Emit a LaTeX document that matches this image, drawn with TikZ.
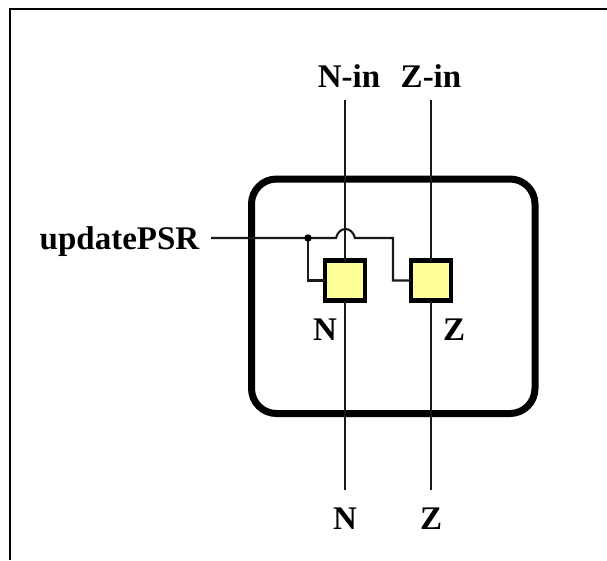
\documentclass[tikz,border=0pt]{standalone}
\usepackage{fontspec}
\setmainfont{Liberation Serif}
\definecolor{latchfill}{HTML}{FFFF99}
\tikzset{
  every picture/.style={x=1pt,y=-1pt},
  wire/.style={draw=black!90,line width=2.1pt},
  latch/.style={draw=black,line width=4.2pt,fill=latchfill,minimum size=40pt,inner sep=0pt,outer sep=0pt},
  lbl/.style={inner sep=0pt,anchor=base,font=\fontsize{33}{33}\selectfont\bfseries},
}
\begin{document}
\begin{tikzpicture}
\useasboundingbox (0,0) rectangle (607,560);
\draw[line width=2.2pt] (607,9) -- (10,9) -- (10,560);
\node[draw,line width=7pt,rounded corners=25pt,minimum width=283.5pt,minimum height=234.5pt,inner sep=0pt,outer sep=0pt,anchor=north west] (box) at (251.5,179) {};
\node[latch] (nf) at (345,280.5) {};
\node[latch] (zf) at (431,280.5) {};
\node[lbl] (nin) at (349,87) {N-in};
\node[lbl] (zin) at (431,87) {Z-in};
\node[lbl] (upd) at (119.5,249) {updatePSR};
\node[lbl] (nq) at (325,340) {N};
\node[lbl] (zq) at (454,340) {Z};
\node[lbl] (nout) at (345,529) {N};
\node[lbl] (zout) at (431,529) {Z};
\coordinate (nintop) at (345,100);
\coordinate (zintop) at (431,100);
\coordinate (nend) at (345,490);
\coordinate (zend) at (431,490);
\coordinate (us) at (211,238);
\coordinate (dot) at (308,238);
\coordinate (h1) at (336,238);
\coordinate (h2) at (355,238);
\draw[wire] (nintop) -- (nf.north);
\draw[wire] (zintop) -- (zf.north);
\draw[wire] (nf.south) -- (nend);
\draw[wire] (zf.south) -- (zend);
\draw[wire] (us) -- (dot) -- (h1) .. controls (339,226) and (352,226) .. (h2) -- (393,238) -- (393,280.5) -- (zf.west);
\draw[wire] (dot) -- (308,280.5) -- (nf.west);
\fill (dot) circle (3.7pt);
\end{tikzpicture}
\end{document}
